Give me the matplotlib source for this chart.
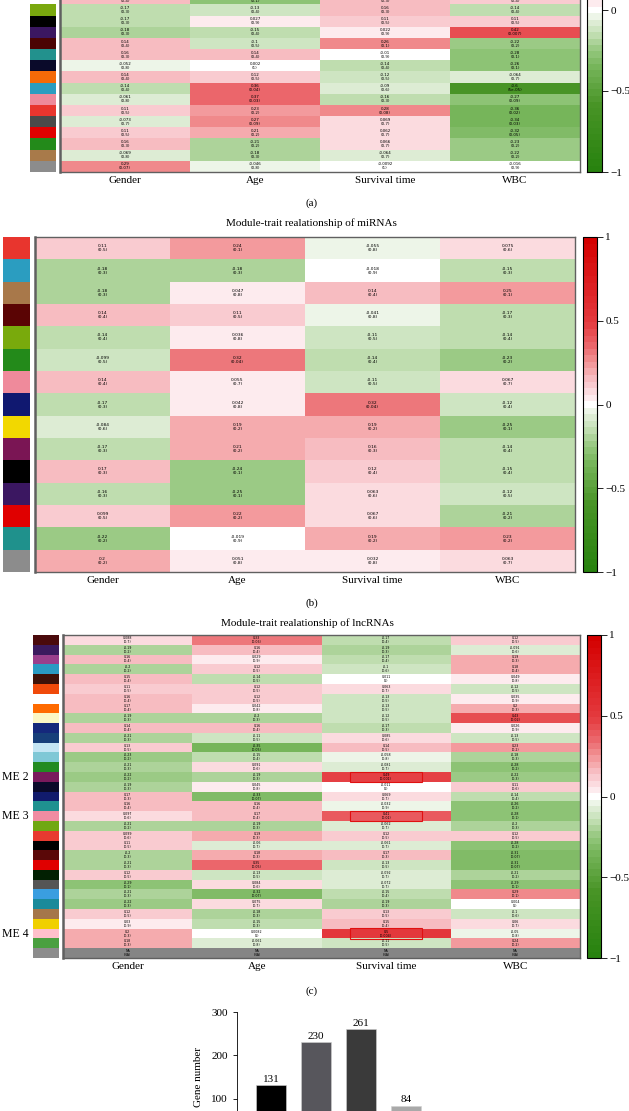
import numpy as np
import matplotlib
matplotlib.use('Agg')
import matplotlib.pyplot as plt
from matplotlib.colors import LinearSegmentedColormap, Normalize
from matplotlib.cm import ScalarMappable
from matplotlib.patches import Rectangle

plt.rcParams['font.family'] = ['Liberation Serif', 'DejaVu Serif']

W, H = 629, 1111
traits = ['Gender', 'Age', 'Survival time', 'WBC']
nan = np.nan

# ---- panel (a): mRNA modules (only the lower part is visible) ----
a_colors = ['#ffffff', '#7aa80e', '#000000', '#3b1761', '#4b0303', '#22918d', '#0a0a2a', '#f56a08',
            '#2b9dc0', '#ee8a9b', '#e8352e', '#4a4a4a', '#e00000', '#238a1a', '#a87a4a', '#8c8c8c']
a_gender = [0.15, -0.17, -0.17, -0.18, 0.14, 0.16, -0.052, 0.14, -0.14, -0.061, 0.11, -0.073, 0.11, 0.16, -0.069, 0.29]
a_gender_p = [0.4, 0.3, 0.3, 0.3, 0.4, 0.3, 0.8, 0.4, 0.4, 0.8, 0.5, 0.7, 0.5, 0.3, 0.8, 0.07]
a_age = [-0.26, -0.13, 0.027, -0.15, -0.1, 0.14, 0.002, 0.12, 0.36, 0.37, 0.23, 0.27, 0.21, -0.21, -0.18, -0.046]
a_age_p = [0.1, 0.4, 0.9, 0.4, 0.5, 0.4, 1, 0.5, 0.04, 0.03, 0.2, 0.09, 0.2, 0.2, 0.3, 0.8]
a_surv = [0.16, 0.16, 0.11, 0.022, 0.26, -0.01, -0.14, -0.12, -0.09, -0.16, 0.28, 0.069, 0.062, 0.066, -0.064, -0.0092]
a_surv_p = [0.3, 0.3, 0.5, 0.9, 0.1, 0.9, 0.4, 0.5, 0.6, 0.3, 0.08, 0.7, 0.7, 0.7, 0.7, 1]
a_wbc = [0.13, -0.14, 0.11, 0.42, -0.22, -0.28, -0.26, -0.064, -0.6, -0.27, -0.36, -0.34, -0.32, -0.23, -0.22, -0.016]
a_wbc_p = [0.4, 0.4, 0.5, 0.007, 0.2, 0.1, 0.1, 0.7, 5e-05, 0.09, 0.02, 0.03, 0.05, 0.2, 0.2, 0.9]

# ---- panel (b): miRNA modules ----
b_colors = ['#e8352e', '#2b9dc0', '#a8784a', '#5a0404', '#79aa0c', '#238a1a', '#ef8a9b', '#101870',
            '#f2d800', '#7a1554', '#000000', '#3b1761', '#e00000', '#1f918c', '#8c8c8c']
b_gender = [0.11, -0.18, -0.18, 0.14, -0.14, -0.099, 0.14, -0.17, -0.084, -0.17, 0.17, -0.16, 0.099, -0.22, 0.2]
b_gender_p = [0.5, 0.3, 0.3, 0.4, 0.4, 0.5, 0.4, 0.3, 0.6, 0.3, 0.3, 0.3, 0.5, 0.2, 0.2]
b_age = [0.24, -0.18, 0.047, 0.11, 0.036, 0.32, 0.055, 0.042, 0.19, 0.21, -0.24, -0.25, 0.22, -0.019, 0.051]
b_age_p = [0.1, 0.3, 0.8, 0.5, 0.8, 0.04, 0.7, 0.8, 0.2, 0.2, 0.1, 0.1, 0.2, 0.9, 0.8]
b_surv = [-0.055, -0.018, 0.14, -0.041, -0.11, -0.14, -0.11, 0.32, 0.19, 0.16, 0.12, 0.063, 0.067, 0.19, 0.032]
b_surv_p = [0.8, 0.9, 0.4, 0.8, 0.5, 0.4, 0.5, 0.04, 0.2, 0.3, 0.4, 0.6, 0.6, 0.2, 0.8]
b_wbc = [0.075, -0.15, 0.25, -0.17, -0.14, -0.23, 0.067, -0.12, -0.25, -0.14, -0.15, -0.12, -0.21, 0.23, 0.063]
b_wbc_p = [0.6, 0.3, 0.1, 0.3, 0.4, 0.2, 0.7, 0.4, 0.1, 0.4, 0.4, 0.5, 0.2, 0.2, 0.7]

# ---- panel (c): lncRNA modules ----
c_colors = ['#4a0a0c', '#3b1a5e', '#9a3f8c', '#2a9bc2', '#3e1208', '#f04a0a', '#ffffff', '#ff6a00',
            '#fbf6c4', '#15287c', '#173f7a', '#c4e6f4', '#7fc8d6', '#228b22', '#7a1a5c', '#0a0a2a',
            '#111b6c', '#1f9190', '#f08ca2', '#70a812', '#e83a30', '#000000', '#5a0808', '#e00000',
            '#022002', '#555555', '#3a9ee0', '#1a8a9a', '#a5764a', '#f0d000', '#ffc0cb', '#4aa040', '#8c8c8c']
c_gender = [0.088, -0.19, 0.16, -0.2, 0.15, 0.11, 0.16, 0.17, -0.19, 0.14, -0.21, 0.13, -0.23, -0.21, -0.22, -0.19,
            0.17, 0.16, 0.097, -0.21, 0.099, 0.11, -0.2, -0.21, 0.12, -0.29, -0.21, -0.22, 0.12, 0.03, 0.2, 0.18, nan]
c_gender_p = [0.7, 0.2, 0.4, 0.2, 0.4, 0.5, 0.4, 0.4, 0.3, 0.4, 0.3, 0.5, 0.2, 0.3, 0.2, 0.3,
              0.3, 0.4, 0.6, 0.2, 0.6, 0.5, 0.3, 0.3, 0.5, 0.1, 0.3, 0.3, 0.5, 0.9, 0.3, 0.3, nan]
c_age = [0.33, 0.16, 0.029, 0.12, -0.14, 0.12, 0.12, 0.042, -0.2, 0.16, -0.11, -0.35, -0.15, 0.091, -0.19, 0.045,
         -0.33, 0.16, 0.17, -0.19, 0.19, -0.06, 0.18, 0.35, -0.13, 0.084, -0.32, 0.075, -0.18, -0.15, 0.0082, -0.061, nan]
c_age_p = [0.06, 0.4, 0.9, 0.5, 0.5, 0.5, 0.5, 0.8, 0.3, 0.4, 0.5, 0.05, 0.4, 0.6, 0.3, 0.8,
           0.07, 0.4, 0.4, 0.3, 0.3, 0.7, 0.3, 0.05, 0.5, 0.6, 0.07, 0.7, 0.3, 0.3, 1, 0.8, nan]
c_surv = [-0.17, -0.19, -0.17, -0.1, 0.011, 0.063, -0.13, -0.13, -0.12, -0.17, 0.085, 0.14, -0.058, -0.081, 0.49, -0.011,
          0.069, -0.032, 0.41, -0.062, 0.12, -0.061, 0.17, -0.13, -0.092, -0.072, -0.15, -0.19, 0.13, 0.15, 0.5, -0.11, nan]
c_surv_p = [0.4, 0.3, 0.4, 0.6, 1, 0.7, 0.5, 0.5, 0.5, 0.3, 0.6, 0.5, 0.8, 0.7, 0.001, 1,
            0.7, 0.9, 0.01, 0.7, 0.5, 0.7, 0.3, 0.5, 0.7, 0.7, 0.4, 0.3, 0.5, 0.4, 0.004, 0.5, nan]
c_wbc = [0.12, -0.091, 0.19, 0.18, 0.049, -0.12, 0.035, 0.2, 0.43, 0.026, -0.13, 0.23, -0.18, -0.28, -0.22, 0.11,
         -0.14, -0.26, -0.28, -0.2, 0.12, -0.28, -0.31, -0.31, -0.21, -0.29, 0.29, 0.004, -0.1, 0.06, -0.05, 0.24, nan]
c_wbc_p = [0.5, 0.6, 0.3, 0.4, 0.8, 0.5, 0.9, 0.3, 0.02, 0.9, 0.5, 0.2, 0.3, 0.2, 0.3, 0.6,
           0.4, 0.2, 0.1, 0.3, 0.5, 0.2, 0.07, 0.07, 0.2, 0.1, 0.1, 1, 0.6, 0.7, 0.8, 0.2, nan]
c_marks = {14: 'ME 2', 18: 'ME 3', 30: 'ME 4'}

# ---- panel (d): gene numbers ----
d_values = [131, 230, 261, 84]
d_colors = ['#000000', '#57565c', '#3a3a3a', '#a9a9a9']

# green-white-red scale, stepped
anchors = [(-1, (40, 130, 15)), (-0.6, (72, 148, 38)), (-0.35, (120, 182, 92)), (-0.25, (150, 200, 128)),
           (-0.15, (195, 223, 180)), (-0.05, (232, 242, 226)), (0, (255, 255, 255)), (0.05, (252, 230, 234)),
           (0.15, (248, 192, 197)), (0.25, (242, 150, 152)), (0.35, (235, 105, 110)), (0.5, (228, 58, 62)),
           (1, (212, 0, 0))]
cmap = LinearSegmentedColormap.from_list('gwr', [((v + 1) / 2, np.array(c) / 255) for v, c in anchors]).resampled(51)
cmap.set_bad('#858585')
norm = Normalize(-1, 1)


def px_axes(fig, x0, y0, x1, y1):
    return fig.add_axes([x0 / W, 1 - y1 / H, (x1 - x0) / W, (y1 - y0) / H])


def fmt(v, digits):
    if np.isnan(v):
        return 'NA'
    return ('%.' + str(digits) + 'g') % v


def heatmap(fig, box, colbox, cbox, cols, vals, pvals, fs, label_fs=8):
    data = np.array(vals).T
    n = data.shape[0]
    ax = px_axes(fig, *box)
    ax.pcolormesh(np.ma.masked_invalid(data), cmap=cmap, norm=norm)
    ax.set_xlim(0, 4)
    ax.set_ylim(n, 0)
    for i in range(n):
        for j in range(4):
            ax.text(j + 0.5, i + 0.5, fmt(vals[j][i], 2) + '\n(' + fmt(pvals[j][i], 1) + ')',
                    ha='center', va='center', fontsize=fs, family='DejaVu Sans', linespacing=1.0)
    ax.set_xticks(np.arange(4) + 0.5)
    ax.set_xticklabels(traits, fontsize=label_fs)
    ax.tick_params(length=0, pad=3)
    ax.set_yticks([])
    for s in ax.spines.values():
        s.set_color('#606060')
        s.set_linewidth(1.0)
    ax.spines['left'].set_linewidth(1.8)
    # module colour strip
    cax_m = px_axes(fig, *colbox)
    cax_m.barh(np.arange(n) + 0.5, 1, height=1, color=cols)
    cax_m.set_ylim(n, 0)
    cax_m.set_xlim(0, 1)
    cax_m.axis('off')
    # colour bar
    cb_ax = px_axes(fig, *cbox)
    cb = fig.colorbar(ScalarMappable(norm=norm, cmap=cmap), cax=cb_ax, ticks=[-1, -0.5, 0, 0.5, 1])
    cb.ax.set_yticklabels(['\u22121', '\u22120.5', '0', '0.5', '1'], fontsize=8)
    cb.ax.tick_params(length=4, width=0.6, pad=2)
    cb.outline.set_linewidth(0.8)
    return ax


fig = plt.figure(figsize=(W / 100, H / 100), dpi=100)

# (a)
heatmap(fig, (60, -6.7, 580, 172), (30, -6.7, 56, 172), (587, -152, 602, 172), a_colors,
        [a_gender, a_age, a_surv, a_wbc], [a_gender_p, a_age_p, a_surv_p, a_wbc_p], 2.9)
fig.text(312 / W, 1 - 203 / H, '(a)', ha='center', va='center', fontsize=8)

# (b)
fig.text(311 / W, 1 - 223 / H, 'Module-trait realationship of miRNAs', ha='center', va='center', fontsize=8)
heatmap(fig, (35, 237, 575, 572), (3, 237, 30, 572), (583, 237, 597, 572), b_colors,
        [b_gender, b_age, b_surv, b_wbc], [b_gender_p, b_age_p, b_surv_p, b_wbc_p], 3.2)
fig.text(312 / W, 1 - 603 / H, '(b)', ha='center', va='center', fontsize=8)

# (c)
fig.text(307 / W, 1 - 623 / H, 'Module-trait realationship of lncRNAs', ha='center', va='center', fontsize=8)
axc = heatmap(fig, (63, 635, 580, 958), (33, 635, 59, 958), (587, 635, 601, 958), c_colors,
              [c_gender, c_age, c_surv, c_wbc], [c_gender_p, c_age_p, c_surv_p, c_wbc_p], 2.3)
for i, lab in c_marks.items():
    axc.add_patch(Rectangle((2.22, i - 0.05), 0.56, 1.1, fill=False, edgecolor='#e01010', lw=0.8))
    axc.annotate(lab, xy=(15 / W, 0), xycoords=('figure fraction', 'data'), xytext=(15 / W, i + 0.5),
                 textcoords=('figure fraction', 'data'), ha='center', va='center', fontsize=8.5)
fig.text(312 / W, 1 - 991 / H, '(c)', ha='center', va='center', fontsize=8)

# (d) bar chart, cut off at the bottom of the page
axd = px_axes(fig, 237, 1012, 460, 1142)
x = np.arange(len(d_values))
bars = axd.bar(x, d_values, width=0.667, color=d_colors, edgecolor='#d0d0d0', linewidth=0.4)
for xi, v in zip(x, d_values):
    axd.text(xi, v + 3, str(v), ha='center', va='bottom', fontsize=8)
axd.set_xlim(-0.756, 4.2)
axd.set_ylim(0, 300)
axd.set_yticks([0, 100, 200, 300])
axd.tick_params(axis='y', labelsize=8, length=3, width=0.6)
axd.set_xticks([])
axd.set_ylabel('Gene number', fontsize=8, labelpad=6)
for s in ['top', 'right']:
    axd.spines[s].set_visible(False)
axd.spines['left'].set_linewidth(0.6)
axd.spines['bottom'].set_linewidth(0.6)

fig.savefig('out.png', dpi=100)
